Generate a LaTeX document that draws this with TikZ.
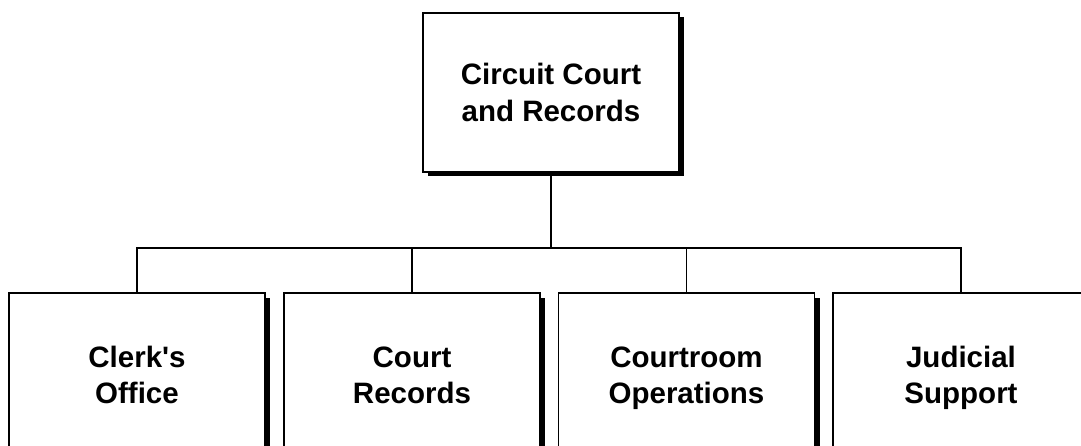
\documentclass[tikz,border=0pt]{standalone}
\usepackage{fontspec}
\setmainfont{Liberation Sans}
\usetikzlibrary{shadows}
\newcommand\lnstrut{\rule[-7pt]{0pt}{35pt}}
\begin{document}
\begin{tikzpicture}[x=1pt,y=-1pt,
  orgbox/.style={draw=black, line width=1.6pt, fill=white, minimum width=256pt,
    align=center, inner sep=0pt,
    font=\fontsize{29.5}{36.5}\selectfont\bfseries,
    general shadow={fill=black, shadow xshift=5pt, shadow yshift=-4.5pt}},
  link/.style={draw=black, line width=1.4pt}]
\useasboundingbox (0,0) rectangle (1081,446);
\clip (0,0) rectangle (1081,446);
\node[orgbox, minimum height=159pt] (top) at (551,92.5) {\lnstrut Circuit Court\\\lnstrut and Records};
\node[orgbox, minimum height=164pt] (b1) at (137,375) {\lnstrut Clerk\textquotesingle s\\\lnstrut Office};
\node[orgbox, minimum height=164pt] (b2) at (412,375) {\lnstrut Court\\\lnstrut Records};
\node[orgbox, minimum height=164pt] (b3) at (686.5,375) {\lnstrut Courtroom\\\lnstrut Operations};
\node[orgbox, minimum height=164pt] (b4) at (961,375) {\lnstrut Judicial\\\lnstrut Support};
\coordinate (bus) at (0,248);
\draw[link] (top.south) -- (top.south |- bus);
\draw[link] (b1.north) -- (b1.north |- bus) -- (b4.north |- bus) -- (b4.north);
\draw[link] (b2.north) -- (b2.north |- bus);
\draw[link] (b3.north) -- (b3.north |- bus);
\end{tikzpicture}
\end{document}
